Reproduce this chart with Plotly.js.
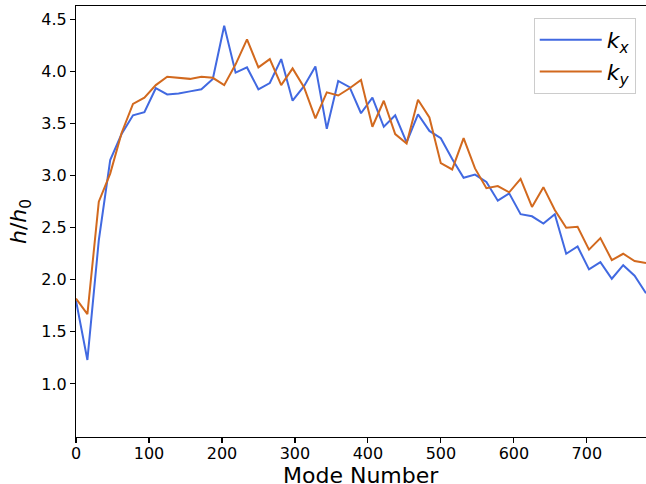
<!DOCTYPE html>
<html>
<head>
<meta charset="utf-8">
<script src="https://cdn.plot.ly/plotly-3.0.1.min.js"></script>
<style>html,body{margin:0;padding:0;background:#fff;}#chart{width:646px;height:484px;}</style>
</head>
<body>
<div id="chart"></div>
<script>
// Mode numbers (51 samples, step ~15.62)
const modeStep = 15.62;
const modeNumber = Array.from({length: 51}, (_, i) => +(i * modeStep).toFixed(2));

const kx = [1.80, 1.23, 2.38, 3.15, 3.40, 3.58, 3.61, 3.84, 3.78, 3.79,
            3.81, 3.83, 3.93, 4.44, 3.99, 4.04, 3.83, 3.89, 4.12, 3.72,
            3.86, 4.05, 3.45, 3.91, 3.85, 3.60, 3.75, 3.47, 3.58, 3.32,
            3.59, 3.43, 3.36, 3.16, 2.98, 3.01, 2.94, 2.76, 2.83, 2.63,
            2.61, 2.54, 2.63, 2.25, 2.32, 2.10, 2.17, 2.01, 2.14, 2.04,
            1.87];

const ky = [1.82, 1.67, 2.75, 3.02, 3.41, 3.69, 3.75, 3.87, 3.95, 3.94,
            3.93, 3.95, 3.94, 3.87, 4.07, 4.31, 4.04, 4.12, 3.87, 4.03,
            3.85, 3.55, 3.80, 3.77, 3.84, 3.92, 3.47, 3.72, 3.40, 3.31,
            3.73, 3.56, 3.12, 3.06, 3.36, 3.07, 2.88, 2.90, 2.84, 2.97,
            2.70, 2.89, 2.67, 2.50, 2.51, 2.29, 2.40, 2.19, 2.25, 2.18,
            2.16];

const seriesNames = ['<i>k</i><sub><i>x</i></sub>', '<i>k</i><sub><i>y</i></sub>'];
const xTitle = 'Mode Number';
const yTitle = '<i>h</i>/<i>h</i><sub>0</sub>';
const xTickVals = [0, 100, 200, 300, 400, 500, 600, 700];
const yTickVals = [1.0, 1.5, 2.0, 2.5, 3.0, 3.5, 4.0, 4.5];

const font = 'DejaVu Sans, sans-serif';

const traces = [
  {x: modeNumber, y: kx, name: seriesNames[0], type: 'scatter', mode: 'lines',
   line: {color: '#4169E1', width: 2}},
  {x: modeNumber, y: ky, name: seriesNames[1], type: 'scatter', mode: 'lines',
   line: {color: '#D2691E', width: 2}}
];

const axisCommon = {
  showline: true, mirror: true, linecolor: '#000', linewidth: 1.1,
  ticks: 'outside', ticklen: 5, tickwidth: 1.1, tickcolor: '#000',
  showgrid: false, zeroline: false,
  tickfont: {family: font, size: 16, color: '#000'}
};

const layout = {
  width: 646, height: 484,
  margin: {l: 76, r: 0, t: 6, b: 47},
  paper_bgcolor: '#fff', plot_bgcolor: '#fff',
  showlegend: true,
  legend: {
    x: 0.982, y: 0.972, xanchor: 'right', yanchor: 'top',
    bgcolor: 'rgba(255,255,255,0.8)', bordercolor: '#cccccc', borderwidth: 1,
    font: {family: font, size: 22, color: '#000'},
    itemwidth: 62,
    tracegroupgap: 0
  },
  xaxis: Object.assign({}, axisCommon, {
    range: [0, 781], tickvals: xTickVals, ticklabelstandoff: -3
  }),
  yaxis: Object.assign({}, axisCommon, {
    range: [0.49, 4.63], tickvals: yTickVals, tickformat: '.1f',
    title: {text: yTitle, font: {family: font, size: 22, color: '#000'}, standoff: 8}
  }),
  annotations: [
    {text: xTitle, xref: 'paper', yref: 'paper', x: 0.5, y: -0.09,
     xanchor: 'center', yanchor: 'middle', showarrow: false, borderpad: 0,
     font: {family: font, size: 22, color: '#000'}}
  ]
};

Plotly.newPlot('chart', traces, layout, {staticPlot: true, displayModeBar: false});
</script>
</body>
</html>
